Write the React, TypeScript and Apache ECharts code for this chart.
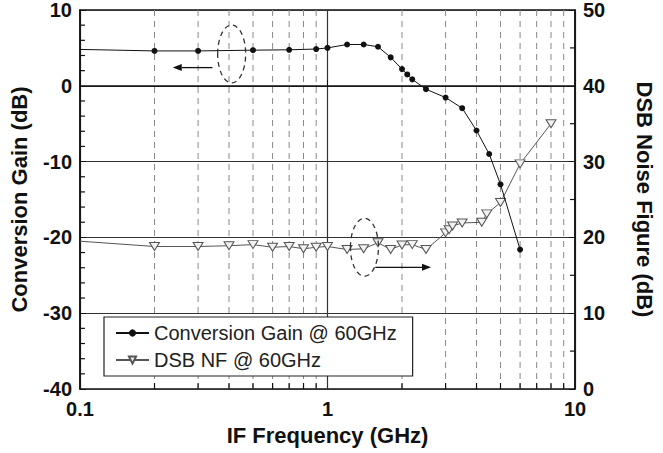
import React, { useEffect, useRef } from "react";
import * as echarts from "echarts";

const FONT = "'Liberation Sans', Arial, Helvetica, sans-serif";

// Conversion gain (left axis, dB)
const gainFreq = [0.1, 0.2, 0.3, 0.5, 0.7, 0.9, 1.0, 1.2, 1.4, 1.6, 1.8, 2.0, 2.1, 2.2, 2.5, 3.0, 3.5, 4.0, 4.5, 5.0, 6.0];
const gainDb = [4.8, 4.6, 4.6, 4.7, 4.75, 4.85, 5.0, 5.45, 5.45, 5.15, 3.75, 2.2, 1.5, 0.85, -0.45, -1.55, -2.95, -5.9, -9.0, -13.0, -21.6];

// DSB noise figure (right axis, dB)
const nfFreq = [0.1, 0.2, 0.3, 0.4, 0.5, 0.6, 0.7, 0.8, 0.9, 1.0, 1.2, 1.4, 1.6, 1.8, 2.0, 2.2, 2.5, 3.0, 3.1, 3.2, 3.5, 4.2, 4.4, 5.0, 6.0, 8.0];
const nfDb = [19.5, 18.8, 18.8, 18.9, 19.05, 18.7, 18.8, 18.5, 18.7, 18.8, 18.4, 18.5, 19.3, 18.4, 19.0, 19.05, 18.4, 20.6, 21.0, 21.5, 21.9, 22.0, 23.1, 24.6, 29.7, 35.0];

// axes
const xTickLabels = ["0.1", "1", "10"];
const xMin = 0.1, xMax = 10;
const minorFreqs = [0.2, 0.3, 0.4, 0.5, 0.6, 0.7, 0.8, 0.9, 2, 3, 4, 5, 6, 7, 8, 9];
const leftMin = -40, leftMax = 10, leftStep = 10;
const rightMin = 0, rightMax = 50, rightStep = 10;
const leftMinorTicks = [8, 6, 4, 2, -2, -4, -6, -8, -12, -14, -16, -18, -22, -24, -26, -28, -32, -34, -36, -38];
const rightMinorTicks = [45, 35, 25, 15, 5];

const seriesNames = ["Conversion Gain @ 60GHz", "DSB NF @ 60GHz"];

// annotations: [ellipseX, ellipseY, arrowFromX, arrowToX, arrowY]
const gainNote = [[0.41, 4.2, 0.343, 0.237, 2.4]];
const nfNote = [[1.41, 18.7, 1.56, 2.62, 16.05]];

function noteRender(params: any, api: any) {
  const c = api.coord([api.value(0), api.value(1)]);
  const a0 = api.coord([api.value(2), api.value(4)]);
  const a1 = api.coord([api.value(3), api.value(4)]);
  const dir = a1[0] > a0[0] ? 1 : -1;
  const head = 9;
  return {
    type: "group",
    children: [
      {
        type: "ellipse",
        shape: { cx: c[0], cy: c[1], rx: 14, ry: 29 },
        style: { fill: "none", stroke: "#333", lineWidth: 1.3, lineDash: [5, 4] },
      },
      {
        type: "line",
        shape: { x1: a0[0], y1: a0[1], x2: a1[0] - dir * head, y2: a1[1] },
        style: { stroke: "#111", lineWidth: 1.3 },
      },
      {
        type: "polygon",
        shape: {
          points: [
            [a1[0], a1[1]],
            [a1[0] - dir * head, a1[1] - 3.5],
            [a1[0] - dir * head, a1[1] + 3.5],
          ],
        },
        style: { fill: "#111" },
      },
    ],
  };
}

function yTickRender(atX: number, dir: number) {
  return (params: any, api: any) => {
    const p = api.coord([atX, api.value(1)]);
    return {
      type: "line",
      shape: { x1: p[0], y1: p[1], x2: p[0] + dir * 5, y2: p[1] },
      style: { stroke: "#111", lineWidth: 1.2 },
    };
  };
}

export default function App() {
  const ref = useRef<HTMLDivElement>(null);
  useEffect(() => {
    if (!ref.current) return;
    const chart = echarts.init(ref.current, null, { renderer: "svg" });
    const labelStyle = { color: "#111", fontSize: 20, fontWeight: "bold", fontFamily: FONT };
    const nameStyle = { color: "#111", fontSize: 22, fontWeight: "bold", fontFamily: FONT };
    chart.setOption({
      animation: false,
      backgroundColor: "#fff",
      grid: {
        left: 79,
        right: 83,
        top: 9,
        bottom: 64,
        show: true,
        borderColor: "#111",
        borderWidth: 1.5,
        backgroundColor: "transparent",
      },
      legend: {
        data: seriesNames,
        orient: "vertical",
        left: 104,
        top: 317,
        itemWidth: 33,
        itemHeight: 9,
        itemGap: 7,
        padding: [6, 16, 6, 11],
        borderColor: "#222",
        borderWidth: 1.2,
        backgroundColor: "#fff",
        textStyle: { fontSize: 20, fontFamily: FONT, color: "#222" },
        z: 10,
      },
      xAxis: {
        type: "log",
        logBase: 10,
        min: xMin,
        max: xMax,
        name: "IF Frequency (GHz)",
        nameLocation: "middle",
        nameGap: 35,
        nameTextStyle: nameStyle,
        axisLine: { lineStyle: { color: "#111", width: 1.5 } },
        axisTick: { inside: true, length: 6, lineStyle: { color: "#111" } },
        axisLabel: { ...labelStyle, margin: 10, formatter: (_v: number, i: number) => xTickLabels[i] ?? "" },
        splitLine: { show: true, lineStyle: { color: "#333", width: 1.2 } },
      },
      yAxis: [
        {
          type: "value",
          min: leftMin,
          max: leftMax,
          interval: leftStep,
          position: "left",
          name: "Conversion Gain (dB)",
          nameLocation: "middle",
          nameGap: 50,
          nameTextStyle: nameStyle,
          axisLine: { show: true, lineStyle: { color: "#111", width: 1.5 } },
          axisTick: { inside: true, length: 6, lineStyle: { color: "#111" } },
          axisLabel: { ...labelStyle, margin: 8 },
          splitLine: { show: true, lineStyle: { color: "#333", width: 1.2 } },
        },
        {
          type: "value",
          min: rightMin,
          max: rightMax,
          interval: rightStep,
          position: "right",
          name: "DSB Noise Figure (dB)",
          nameLocation: "middle",
          nameRotate: -90,
          nameGap: 58,
          nameTextStyle: nameStyle,
          axisLine: { show: true, lineStyle: { color: "#111", width: 1.5 } },
          axisTick: { inside: true, length: 6, lineStyle: { color: "#111" } },
          axisLabel: { ...labelStyle, margin: 8 },
          splitLine: { show: false },
        },
      ],
      series: [
        {
          type: "custom",
          name: "minorGrid",
          xAxisIndex: 0,
          yAxisIndex: 0,
          silent: true,
          z: 1,
          encode: { x: 0, y: 1 },
          data: minorFreqs.map((f) => [f, 0]),
          renderItem: (params: any, api: any) => {
            const x = api.value(0);
            const p0 = api.coord([x, leftMax]);
            const p1 = api.coord([x, leftMin]);
            return {
              type: "group",
              children: [
                {
                  type: "line",
                  shape: { x1: p0[0], y1: p0[1], x2: p1[0], y2: p1[1] },
                  style: { stroke: "#888", lineWidth: 1, lineDash: [6, 5] },
                },
                {
                  type: "line",
                  shape: { x1: p1[0], y1: p1[1], x2: p1[0], y2: p1[1] - 6 },
                  style: { stroke: "#111", lineWidth: 1.2 },
                },
              ],
            };
          },
        },
        {
          type: "custom",
          name: "leftMinor",
          yAxisIndex: 0,
          silent: true,
          z: 2,
          encode: { x: 0, y: 1 },
          data: leftMinorTicks.map((v) => [xMin, v]),
          renderItem: yTickRender(xMin, 1),
        },
        {
          type: "custom",
          name: "rightMinor",
          yAxisIndex: 1,
          silent: true,
          z: 2,
          encode: { x: 0, y: 1 },
          data: rightMinorTicks.map((v) => [xMax, v]),
          renderItem: yTickRender(xMax, -1),
        },
        {
          type: "line",
          name: seriesNames[0],
          yAxisIndex: 0,
          z: 4,
          symbol: "circle",
          symbolSize: 6,
          lineStyle: { color: "#111", width: 1 },
          itemStyle: { color: "#111" },
          data: gainFreq.map((f, i) => (i === 0 ? { value: [f, gainDb[i]], symbol: "none" } : [f, gainDb[i]])),
        },
        {
          type: "line",
          name: seriesNames[1],
          yAxisIndex: 1,
          z: 3,
          symbol: "triangle",
          symbolRotate: 180,
          symbolSize: [10, 8],
          lineStyle: { color: "#555", width: 1 },
          itemStyle: { color: "#f2f2f2", borderColor: "#555", borderWidth: 1 },
          data: nfFreq.map((f, i) => (i === 0 ? { value: [f, nfDb[i]], symbol: "none" } : [f, nfDb[i]])),
        },
        {
          type: "custom",
          name: "gainNote",
          yAxisIndex: 0,
          silent: true,
          z: 5,
          encode: { x: 0, y: 1 },
          data: gainNote,
          renderItem: noteRender,
        },
        {
          type: "custom",
          name: "nfNote",
          yAxisIndex: 1,
          silent: true,
          z: 5,
          encode: { x: 0, y: 1 },
          data: nfNote,
          renderItem: noteRender,
        },
      ],
    });
    return () => chart.dispose();
  }, []);
  return <div ref={ref} style={{ width: 663, height: 453, position: "absolute", left: 0, top: 0 }} />;
}
